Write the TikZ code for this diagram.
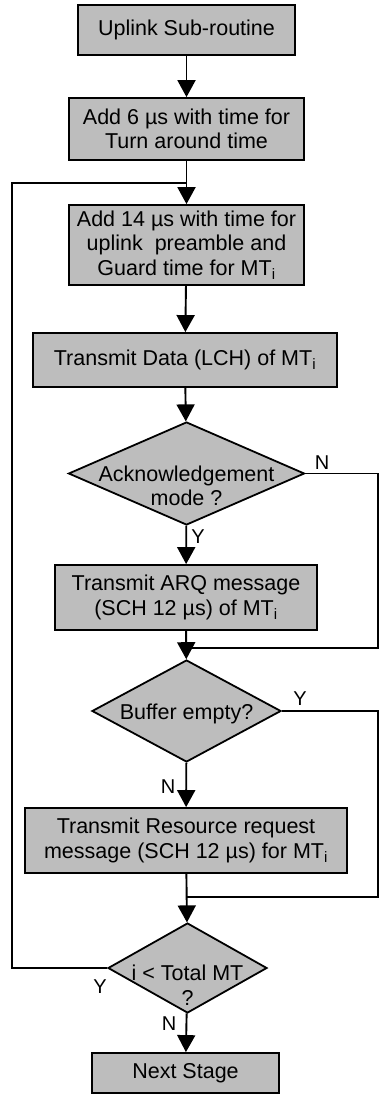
\documentclass[tikz,border=0pt]{standalone}
\usepackage{fontspec}
\setmainfont{Liberation Sans}
\usetikzlibrary{shapes.geometric,arrows.meta}
\definecolor{boxfill}{gray}{0.74}
\tikzset{
  stepbox/.style={draw, fill=boxfill, line width=1.8pt, inner sep=0pt,
    align=center, font=\fontsize{21.5}{24.5}\selectfont},
  decision/.style={draw, fill=boxfill, line width=1.8pt, diamond, inner sep=0pt},
  dtext/.style={align=center, font=\fontsize{21.5}{24.5}\selectfont, inner sep=0pt},
  flow/.style={line width=1.9pt, -{Triangle[length=17pt,width=18pt]}},
  back/.style={line width=1.5pt},
  tag/.style={font=\fontsize{20}{22}\selectfont, inner sep=0pt},
}
\newcommand{\mti}{MT\textsubscript{i}}
\begin{document}
\begin{tikzpicture}[x=1pt,y=-1pt]
\useasboundingbox (0,0) rectangle (380,1099);

% process boxes
\node[stepbox, minimum width=217pt, minimum height=50pt] (b1) at (186.5,30) {Uplink Sub-routine};
\node[stepbox, minimum width=235pt, minimum height=62pt] (b2) at (186.5,129) {Add 6 µs with time for\\Turn around time};
\node[stepbox, minimum width=235pt, minimum height=80pt] (b3) at (186.5,245) {Add 14 µs with time for\\uplink \ preamble and\\Guard time for \mti};
\node[stepbox, minimum width=304pt, minimum height=54pt] (b4) at (185,360) {Transmit Data (LCH) of \mti};

% first decision
\node[decision, minimum width=236pt, minimum height=103pt] (d1) at (186.5,473.5) {};
\node[dtext] (d1t) at (186.5,486) {Acknowledgement\\mode ?};

\node[stepbox, minimum width=262pt, minimum height=65pt] (b5) at (186,597.5) {Transmit ARQ message\\(SCH 12 µs) of \mti};

% second decision
\node[decision, minimum width=189pt, minimum height=102pt] (d2) at (186.5,711) {};
\node[dtext] (d2t) at (186.5,714) {Buffer empty?};

\node[stepbox, minimum width=322pt, minimum height=65pt] (b6) at (186,840.5) {Transmit Resource request\\message (SCH 12 µs) for \mti};

% loop decision
\node[decision, minimum width=159pt, minimum height=90pt] (d3) at (187.5,968) {};
\node[dtext] (d3t) at (187.5,985) {i < Total MT\\?};

\node[stepbox, minimum width=187pt, minimum height=40pt] (b7) at (185.5,1073) {Next Stage};

% junction points
\coordinate (j1) at (186.5,183);
\coordinate (jl) at (12,183);
\coordinate (jlb) at (12,968);
\coordinate (j2) at (186.5,648);
\coordinate (n1) at (378,473.5);
\coordinate (n2) at (378,648);
\coordinate (j3) at (186.5,897);
\coordinate (y1) at (378,711);
\coordinate (y2) at (378,897);

% main flow
\draw[flow] (b1) -- (b2);
\draw[flow] (b2) -- (b3);
\draw[flow] (b3) -- (b4);
\draw[flow] (b4) -- (d1);
\draw[flow] (d1) -- (b5);
\draw[flow] (b5) -- (d2);
\draw[flow] (d2) -- (b6);
\draw[flow] (b6) -- (d3);
\draw[flow] (d3) -- (b7);

% side branches
\draw[back] (d1.east) -- (n1) -- (n2) -- (j2);
\draw[back] (d2.east) -- (y1) -- (y2) -- (j3);
\draw[back] (d3.west) -- (jlb) -- (jl) -- (j1);

% branch labels
\node[tag] (l1) at (322,463) {N};
\node[tag] (l2) at (198,537) {Y};
\node[tag] (l3) at (300,699) {Y};
\node[tag] (l4) at (168,787) {N};
\node[tag] (l5) at (100,987) {Y};
\node[tag] (l6) at (169,1024) {N};
\end{tikzpicture}
\end{document}
